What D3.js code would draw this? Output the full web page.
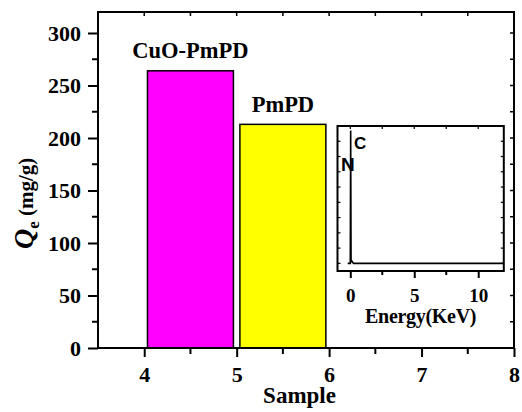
<!DOCTYPE html>
<html><head><meta charset="utf-8">
<script src="https://cdn.jsdelivr.net/npm/d3@7/dist/d3.min.js"></script>
<style>body{margin:0;background:#fff}svg{display:block}
svg text{font-family:"Liberation Serif","Tinos","Times New Roman","DejaVu Serif",serif !important;font-weight:bold}
svg text.pk{font-family:"Liberation Sans",Arial,sans-serif !important}</style>
</head><body><svg id="c" width="522" height="412"></svg>
<script>
// Main bar chart data
const samplePos = [4.5, 5.5];
const sampleNames = ["CuO-PmPD", "PmPD"];
const qeValues = [264, 213];
const barColors = ["#ff00ff", "#ffff00"];
const xTicks = [4, 5, 6, 7, 8];
const yTicks = [0, 50, 100, 150, 200, 250, 300];
// Inset EDS spectrum data
const energy = [-0.2, 0.0, 0.03, 0.06, 0.12, 0.25, 1, 3, 6, 9, 12];
const counts = [0, 0, 8.7, 0.1, 0.15, 0, 0, 0, 0, 0, 0];
const insetTicks = [0, 5, 10];
const peakLabels = [{t:"C", e:0.29, v:7.48, size:17}, {t:"N", e:-0.73, v:6.07, size:19}];

const svg = d3.select("#c");
const L = 98, R = 514, T = 12, B = 348;
const x = d3.scaleLinear().domain([3.5, 8]).range([L, R]);
const y = d3.scaleLinear().domain([0, 320]).range([B, T]);

// bars
svg.selectAll("rect.bar").data(qeValues).enter().append("rect")
  .attr("x", (d,i) => x(samplePos[i] - 0.465))
  .attr("width", (d,i) => x(samplePos[i] + 0.465) - x(samplePos[i] - 0.465))
  .attr("y", d => y(d)).attr("height", d => y(0) - y(d))
  .attr("fill", (d,i) => barColors[i]).attr("stroke", "#000").attr("stroke-width", 1.5);
svg.selectAll("text.blab").data(qeValues).enter().append("text")
  .attr("x", (d,i) => x(samplePos[i])).attr("y", d => y(d) - 12.5)
  .attr("text-anchor", "middle").attr("font-size", 22.5).text((d,i) => sampleNames[i]);

// axes
const minorX = d3.range(3.5, 8.01, 0.5);
const minorY = d3.range(0, 320, 25);
const ax = svg.append("g").attr("transform", `translate(0,${B})`)
  .call(d3.axisBottom(x).tickValues(xTicks).tickSize(9).tickPadding(11).tickFormat(d3.format("d")));
const ay = svg.append("g").attr("transform", `translate(${L},0)`)
  .call(d3.axisLeft(y).tickValues(yTicks).tickSize(10).tickPadding(7).tickFormat(d3.format("d")));
[ax, ay].forEach(g => { g.select(".domain").remove(); g.selectAll("line").attr("stroke-width", 2);
  g.attr("font-family", null);
  g.selectAll("text").attr("font-size", 22).attr("fill", "#000"); });
ax.selectAll(".tick text").attr("dy", null).attr("y", 34);
ay.selectAll(".tick text").attr("dy", "0.34em");
// minor ticks bottom & left
svg.append("g").selectAll("line").data(minorX.filter(v => !xTicks.includes(v) && v > 3.5)).enter().append("line")
  .attr("x1", d => x(d)).attr("x2", d => x(d)).attr("y1", B).attr("y2", B + 6).attr("stroke", "#000").attr("stroke-width", 2);
svg.append("g").selectAll("line").data(minorY.filter(v => !yTicks.includes(v))).enter().append("line")
  .attr("x1", L - 6).attr("x2", L).attr("y1", d => y(d)).attr("y2", d => y(d)).attr("stroke", "#000").attr("stroke-width", 2);
// mirrored inward ticks top & right
svg.append("g").selectAll("line").data(minorX.filter(v => v > 3.5 && v < 8)).enter().append("line")
  .attr("x1", d => x(d)).attr("x2", d => x(d)).attr("y1", T).attr("y2", T + 4).attr("stroke", "#000").attr("stroke-width", 1.5);
svg.append("g").selectAll("line").data(minorY.filter(v => v > 0)).enter().append("line")
  .attr("x1", R - 4).attr("x2", R).attr("y1", d => y(d)).attr("y2", d => y(d)).attr("stroke", "#000").attr("stroke-width", 1.5);
// frame
svg.append("rect").attr("x", L).attr("y", T).attr("width", R - L).attr("height", B - T)
  .attr("fill", "none").attr("stroke", "#000").attr("stroke-width", 2);

// axis titles
svg.append("text").attr("x", x(5.68)).attr("y", 403).attr("text-anchor", "middle").attr("font-size", 23).text("Sample");
const yt = svg.append("text").attr("transform", "translate(33,249) rotate(-90)").attr("text-anchor", "start");
yt.append("tspan").attr("font-size", 28).attr("font-style", "italic").text("Q");
yt.append("tspan").attr("font-size", 17).attr("dy", 6).text("e");
yt.append("tspan").attr("font-size", 21).attr("dy", -6).text(" (mg/g)");

// inset
const iL = 337.5, iR = 503.8, iT = 126, iB = 271;
const ix = d3.scaleLinear().domain([-1, 12]).range([iL, iR]);
const iy = d3.scaleLinear().domain([-0.5, 9]).range([iB, iT]);
svg.append("rect").attr("x", iL).attr("y", iT).attr("width", iR - iL).attr("height", iB - iT)
  .attr("fill", "#fff").attr("stroke", "none");
svg.append("path").datum(energy.map((e,i) => [e, counts[i]]))
  .attr("d", d3.line().x(d => ix(d[0])).y(d => iy(d[1])))
  .attr("fill", "none").attr("stroke", "#000").attr("stroke-width", 1.6);
const iax = svg.append("g").attr("transform", `translate(0,${iB})`)
  .call(d3.axisBottom(ix).tickValues(insetTicks).tickSize(7).tickPadding(5).tickFormat(d3.format("d")));
iax.select(".domain").remove();
iax.attr("font-family", null);
iax.selectAll("line").attr("stroke-width", 2);
iax.selectAll("text").attr("font-size", 19).attr("fill", "#000").attr("dy", null).attr("y", 31);
svg.append("g").selectAll("line").data([2.5, 7.5]).enter().append("line")
  .attr("x1", d => ix(d)).attr("x2", d => ix(d)).attr("y1", iB).attr("y2", iB + 4).attr("stroke", "#000").attr("stroke-width", 2);
svg.append("g").selectAll("line").data([0, 2.5, 5, 7.5, 10]).enter().append("line")
  .attr("x1", d => ix(d)).attr("x2", d => ix(d)).attr("y1", iT).attr("y2", iT + 3).attr("stroke", "#000").attr("stroke-width", 1.2);
const iyt = d3.range(0, 9, 1);
svg.append("g").selectAll("line").data(iyt).enter().append("line")
  .attr("x1", iL).attr("x2", iL + 3).attr("y1", d => iy(d)).attr("y2", d => iy(d)).attr("stroke", "#000").attr("stroke-width", 1.2);
svg.append("g").selectAll("line").data(iyt).enter().append("line")
  .attr("x1", iR - 3).attr("x2", iR).attr("y1", d => iy(d)).attr("y2", d => iy(d)).attr("stroke", "#000").attr("stroke-width", 1.2);
svg.append("rect").attr("x", iL).attr("y", iT).attr("width", iR - iL).attr("height", iB - iT)
  .attr("fill", "none").attr("stroke", "#000").attr("stroke-width", 2);
svg.append("text").attr("x", ix(5.5)).attr("y", 323).attr("text-anchor", "middle").attr("font-size", 20)
  .attr("letter-spacing", -0.3).text("Energy(KeV)");
svg.selectAll("text.pk").data(peakLabels).enter().append("text").attr("class", "pk")
  .attr("x", d => ix(d.e)).attr("y", d => iy(d.v)).attr("font-size", d => d.size).text(d => d.t);
</script></body></html>
